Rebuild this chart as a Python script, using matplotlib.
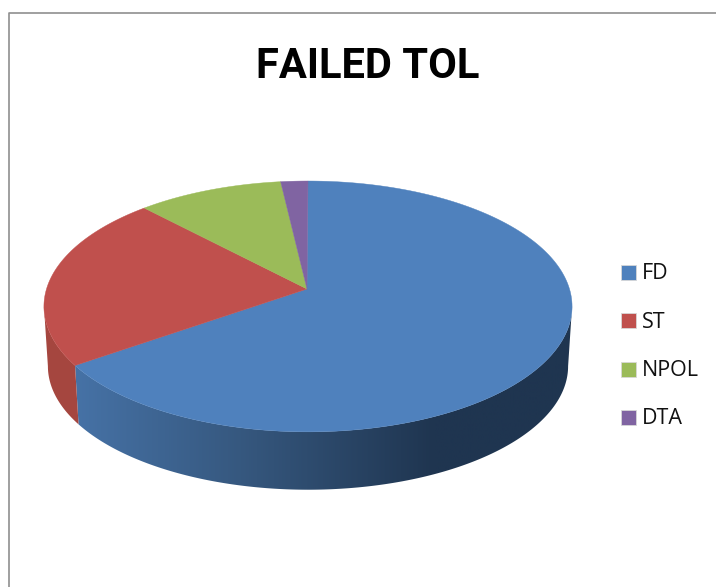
import numpy as np
import matplotlib
matplotlib.use("Agg")
import matplotlib.pyplot as plt
from matplotlib.colors import LinearSegmentedColormap
from matplotlib.patches import Polygon, Rectangle

# values (percent of the pie)
labels = ["FD", "ST", "NPOL", "DTA"]
values = [65.3, 22.6, 10.2, 1.9]
colors = ["#4F81BD", "#C0504D", "#9BBB59", "#8064A2"]

# pie geometry in pixels, perspective puts the apex above the ellipse centre
cx, cy = 308, 289
R, a, b = 261.5, 123, 0.139
shrink, depth = 0.985, 60
# angles where the rim is widest, the wall is only visible between them
right_end = np.degrees(np.arccos(-b))
left_end = 360 - right_end


def rim(theta, side=False):
    # theta is in degrees, clockwise from 12 o'clock
    t = np.radians(theta)
    u, v = np.sin(t), np.cos(t)
    x = R * u / (1 + b * v)
    y = a * v / (1 + b * v)
    if side:
        return np.column_stack([cx + shrink * x, cy - shrink * y + depth])
    return np.column_stack([cx + x, cy - y])


fig = plt.figure(figsize=(7.16, 5.87), dpi=100)
ax = fig.add_axes([0, 0, 1, 1])

edges = np.cumsum([0] + values) / sum(values) * 360

# side walls first, the top faces go over them
fd_angles = np.linspace(right_end, edges[1], 300)
fd_wall = np.vstack([rim(fd_angles), rim(fd_angles[::-1], side=True)])
wall_patch = Polygon(fd_wall, closed=True, fc="none", ec="none")
ax.add_patch(wall_patch)
shade = LinearSegmentedColormap.from_list(
    "shade", [(0, "#4672A6"), (0.33, "#36587F"), (0.72, "#1F3550"), (1, "#1F3550")])
img = ax.imshow(np.linspace(0, 1, 256).reshape(1, -1), cmap=shade, aspect="auto",
                extent=[75, 575, 495, 150], zorder=1)
img.set_clip_path(wall_patch)

st_angles = np.linspace(edges[1], left_end, 100)
st_wall = np.vstack([rim(st_angles), rim(st_angles[::-1], side=True)])
ax.add_patch(Polygon(st_wall, closed=True, fc="#A5463F", ec="none", zorder=1))

# top faces
for i in range(len(values)):
    angles = np.linspace(edges[i], edges[i + 1], 200)
    pts = np.vstack([[cx - 1, cy], rim(angles)])
    ax.add_patch(Polygon(pts, closed=True, fc=colors[i], ec=colors[i], lw=0.3, zorder=2))

# chart frame: only the top and left lines are in the crop
ax.plot([9, 9, 716], [587, 13, 13], color="#8F8F8F", lw=1.2, zorder=3)

ax.text(368, 78, "FAILED TOL", family="Roboto", weight="bold", fontsize=30,
        ha="center", va="baseline", color="black")

# legend
legend_y = [272, 320.5, 369.5, 417.5]
for name, col, y in zip(labels, colors, legend_y):
    ax.add_patch(Rectangle((620.5, y - 7.5), 15, 15, fc=col, ec="#D8D8D8", lw=0.6, zorder=3))
    ax.text(642, y + 7, name, family="Open Sans", fontsize=15.5, ha="left", va="baseline",
            color="#111111")

ax.set_xlim(0, 716)
ax.set_ylim(587, 0)
ax.axis("off")

fig.savefig("out.png", dpi=100)
